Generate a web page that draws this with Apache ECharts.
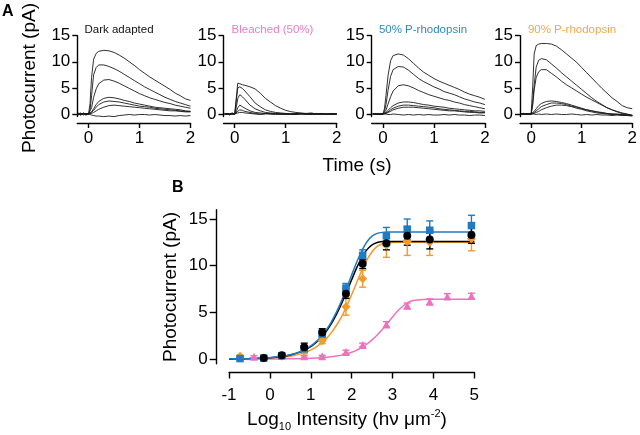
<!DOCTYPE html>
<html>
<head>
<meta charset="utf-8">
<script src="https://cdn.jsdelivr.net/npm/echarts@6/dist/echarts.min.js"></script>
<style>
html,body{margin:0;padding:0;background:#fff;}
#chart{width:640px;height:435px;}
</style>
</head>
<body>
<div id="chart"></div>
<script>
// ---------- Panel A data (time in s, photocurrent in pA) ----------
const timeA = [-0.2,-0.15,-0.1,-0.05,0,0.03,0.06,0.1,0.15,0.2,0.3,0.4,0.5,0.6,0.7,0.8,0.9,1.0,1.1,1.2,1.3,1.4,1.5,1.6,1.7,1.8,1.9,2.0];

const darkTraces = [
  [0.1,-0.2,0.2,-0.1,0, 2,7,10.5,11.6,12.0,12.2,12.1,11.8,11.3,10.7,10.0,9.3,8.5,7.8,7.1,6.5,5.9,5.3,4.7,4.0,3.5,2.9,2.6],
  [0,0.2,-0.2,0.1,0, 0.8,3.5,7.5,8.9,9.4,9.4,9.1,8.7,8.2,7.6,7.0,6.4,5.8,5.2,4.7,4.2,3.7,3.2,2.8,2.4,2.1,1.8,1.5],
  [-0.1,0.1,0,-0.2,0, 0.3,1.2,3.2,4.8,5.8,6.5,6.6,6.3,5.9,5.4,4.9,4.4,3.9,3.5,3.1,2.8,2.5,2.2,2.0,1.7,1.5,1.3,1.1],
  [0.2,0,-0.1,0.1,0, 0.1,0.4,1.0,1.8,2.4,3.0,3.2,3.1,2.9,2.6,2.4,2.1,1.9,1.7,1.5,1.3,1.2,1.1,1.0,0.9,0.8,0.6,0.5],
  [0,-0.1,0.1,0,0, 0.1,0.3,0.7,1.3,1.8,2.3,2.5,2.4,2.3,2.1,1.9,1.7,1.5,1.4,1.3,1.1,1.0,0.9,0.8,0.7,0.6,0.5,0.5],
  [-0.2,0,0.1,-0.1,0, 0,0.1,0.3,0.6,0.9,1.3,1.6,1.7,1.6,1.5,1.4,1.3,1.2,1.1,1.0,0.9,0.8,0.7,0.6,0.6,0.5,0.4,0.4],
  [0,-0.2,0.1,-0.1,0, -0.1,-0.2,-0.3,-0.4,-0.4,-0.5,-0.4,-0.5,-0.3,-0.2,-0.1,-0.2,-0.1,-0.1,-0.2,-0.1,-0.2,-0.3,-0.3,-0.4,-0.3,-0.4,-0.3]
];
const bleachedTraces = [
  [0,0.1,-0.2,0.1,0, 3.0,5.9,5.8,5.6,5.5,5.2,4.8,4.0,3.0,2.3,1.6,1.1,0.7,0.45,0.3,0.2,0.1,0.2,0,0.1,-0.1,0.1,0],
  [0.1,-0.1,0,0.2,0, 2.5,5.0,5.2,4.9,4.4,3.3,2.1,1.4,0.8,0.5,0.3,0.2,0.1,0,0.1,0,0.1,-0.1,0.1,0,0.1,-0.1,0],
  [-0.1,0,0.1,-0.1,0, 1.2,3.0,3.7,3.3,2.8,1.7,1.0,0.6,0.3,0.2,0.1,0,0.1,0,-0.1,0.1,0,0.1,0,-0.1,0,0.1,0],
  [0,0.1,-0.1,0,0, 0.4,1.2,1.7,1.4,1.1,0.6,0.3,0.2,0.1,0,0.1,0,-0.1,0,0.1,0,-0.1,0,0.1,0,-0.1,0,0.1],
  [0.1,0,-0.1,0.1,0, 0.2,0.5,0.8,0.7,0.5,0.3,0.1,0,0.1,0,-0.1,0.1,0,-0.1,0,0.1,0,-0.1,0,0.1,-0.1,0,-0.1],
  [-0.1,0.1,0,0,0, 0.1,0.2,0.3,0.3,0.2,0.1,0,-0.1,0,0.1,0,-0.1,0,0,-0.1,0,0.1,0,-0.1,0,0,-0.1,0]
];
const p50Traces = [
  [0,-0.1,0.1,0,0, 1.0,3.5,7.3,10.2,11.2,11.5,11.3,10.6,9.7,8.8,8.0,7.4,6.8,6.3,5.9,5.5,5.1,4.7,4.2,3.8,3.5,3.2,2.8],
  [0.1,0,-0.1,0,0, 0.5,1.8,4.5,7.2,8.5,9.1,9.0,8.4,7.6,6.8,6.2,5.7,5.2,4.8,4.3,4.0,3.7,3.3,2.9,2.6,2.3,2.1,1.8],
  [0,0.1,0,-0.1,0, 0.2,0.7,1.9,3.3,4.4,5.4,5.6,5.4,5.0,4.5,4.1,3.7,3.4,3.1,2.8,2.6,2.3,2.1,1.8,1.6,1.4,1.2,1.0],
  [-0.1,0,0.1,0,0, 0.1,0.3,0.7,1.2,1.6,2.1,2.3,2.3,2.2,2.0,1.8,1.7,1.5,1.4,1.3,1.1,1.0,0.9,0.8,0.7,0.6,0.6,0.5],
  [0,0.1,-0.1,0,0, 0,0.2,0.4,0.8,1.1,1.5,1.7,1.7,1.6,1.5,1.4,1.3,1.2,1.0,0.9,0.8,0.7,0.6,0.5,0.5,0.4,0.3,0.3],
  [0.1,0,0,-0.1,0, 0,0.1,0.3,0.5,0.8,1.1,1.3,1.3,1.3,1.2,1.1,1.0,0.9,0.8,0.7,0.6,0.6,0.5,0.4,0.3,0.3,0.2,0.2],
  [0,-0.1,0,0.1,0, 0,0,-0.1,-0.1,0,-0.1,-0.2,-0.1,-0.2,-0.1,-0.2,-0.1,-0.2,-0.2,-0.1,-0.2,-0.1,-0.2,-0.2,-0.3,-0.2,-0.2,-0.3]
];
const p90Traces = [
  [0,0.1,-0.1,0,0, 5.0,11.5,13.1,13.4,13.5,13.5,13.4,13.0,12.3,11.5,10.7,9.9,8.9,7.9,6.9,5.9,4.9,4.0,3.1,2.4,1.6,1.2,1.0],
  [0.1,0,-0.1,0.1,0, 2.0,5.5,9.0,10.3,10.6,10.4,9.6,8.8,7.9,7.1,6.3,5.5,4.7,3.9,3.1,2.4,1.8,1.2,0.8,0.4,0.1,-0.1,-0.3],
  [0,0.1,0,-0.1,0, 1.6,4.6,7.0,8.1,8.5,8.5,7.8,7.1,6.3,5.6,5.0,4.4,3.8,3.2,2.7,2.2,1.7,1.2,0.8,0.5,0.2,0,-0.3],
  [0,-0.1,0.1,0,0, 0.2,0.5,1.0,1.6,2.0,2.4,2.5,2.4,2.2,2.0,1.7,1.4,1.1,0.8,0.6,0.4,0.2,0.1,0,0,-0.1,-0.2,-0.3],
  [0.1,0,-0.1,0,0, 0.1,0.3,0.6,1.0,1.4,1.8,2.1,2.1,2.0,1.8,1.5,1.3,1.0,0.8,0.6,0.4,0.3,0.1,0,-0.1,-0.1,-0.2,-0.2],
  [0,0.1,0,-0.1,0, 0,0.1,0.3,0.5,0.8,1.2,1.5,1.7,1.7,1.6,1.4,1.1,0.9,0.6,0.4,0.2,0.1,0,-0.1,-0.1,-0.2,-0.2,-0.3],
  [0,-0.1,0.1,0,0, 0,0,-0.1,0,-0.1,0,-0.1,0,-0.1,-0.1,0,-0.1,-0.2,-0.1,-0.2,-0.1,-0.2,-0.2,-0.3,-0.2,-0.3,-0.3,-0.4]
];
const panelTitles = ['Dark adapted', 'Bleached (50%)', '50% P-rhodopsin', '90% P-rhodopsin'];
const yTicksA = [0, 5, 10, 15];
const xTicksA = [0, 1, 2];

// ---------- Panel B data (log10 intensity, photocurrent pA, SEM) ----------
const darkX = [-0.15, 0.29, 0.84, 1.28, 1.86, 2.27, 2.85, 3.36, 3.91, 4.93];
const darkY = [0.1, 0.4, 1.25, 2.85, 7.0, 10.2, 12.4, 13.2, 12.8, 13.3];
const darkE = [0.1, 0.15, 0.45, 0.4, 0.5, 0.5, 0.7, 1.0, 1.0, 0.9];

const p50X = [-0.73, -0.15, 0.29, 0.84, 1.28, 1.86, 2.27, 2.85, 3.36, 3.91, 4.93];
const p50Y = [0.05, 0.1, 0.35, 1.1, 2.7, 7.6, 11.1, 13.2, 13.9, 13.8, 14.3];
const p50E = [0.1, 0.1, 0.1, 0.3, 0.4, 0.5, 0.6, 0.9, 1.1, 1.0, 1.1];

const p90X = [-0.73, -0.15, 0.29, 0.84, 1.28, 1.86, 2.27, 2.85, 3.36, 3.91, 4.93];
const p90Y = [0.3, 0.1, 0.3, 0.9, 1.95, 5.6, 8.6, 12.2, 12.6, 12.5, 12.9];
const p90E = [0.1, 0.1, 0.1, 0.3, 0.3, 0.9, 0.9, 1.3, 1.5, 1.4, 1.3];

const bleachX = [-0.39, 0.84, 1.28, 1.86, 2.27, 2.85, 3.36, 3.91, 4.34, 4.93];
const bleachY = [0.25, 0.3, 0.3, 0.75, 1.5, 3.7, 5.7, 6.15, 6.7, 6.75];
const bleachE = [0.1, 0.1, 0.1, 0.2, 0.2, 0.3, 0.3, 0.3, 0.3, 0.3];

// fitted curves
const fitX      = [-1, -0.75, -0.5, -0.25, 0, 0.25, 0.5, 0.75, 1, 1.125, 1.25, 1.375, 1.5, 1.625, 1.75, 1.875, 2, 2.125, 2.25, 2.375, 2.5, 2.625, 2.75, 2.875, 3, 3.125, 3.25, 3.375, 3.5, 3.75, 4, 4.5, 5];
const fitDark   = [0.01, 0.03, 0.05, 0.08, 0.14, 0.25, 0.44, 0.77, 1.34, 1.75, 2.28, 2.95, 3.77, 4.75, 5.9, 7.18, 8.5, 9.79, 10.9, 11.72, 12.24, 12.49, 12.58, 12.6, 12.6, 12.6, 12.6, 12.6, 12.6, 12.6, 12.6, 12.6, 12.6];
const fitP50    = [0.02, 0.03, 0.05, 0.08, 0.15, 0.26, 0.46, 0.81, 1.40, 1.84, 2.40, 3.09, 3.96, 5.0, 6.2, 7.57, 9.0, 10.4, 11.6, 12.57, 13.17, 13.46, 13.57, 13.6, 13.6, 13.6, 13.6, 13.6, 13.6, 13.6, 13.6, 13.6, 13.6];
const fitP90    = [0.01, 0.02, 0.03, 0.06, 0.10, 0.18, 0.31, 0.55, 0.96, 1.27, 1.66, 2.16, 2.8, 3.59, 4.5, 5.64, 6.9, 8.2, 9.5, 10.63, 11.5, 12.07, 12.36, 12.47, 12.49, 12.5, 12.5, 12.5, 12.5, 12.5, 12.5, 12.5, 12.5];
const fitBleach = [0.0, 0.0, 0.0, 0.0, 0.01, 0.01, 0.03, 0.04, 0.08, 0.10, 0.14, 0.18, 0.24, 0.32, 0.42, 0.56, 0.73, 0.96, 1.25, 1.61, 2.05, 2.57, 3.17, 3.83, 4.5, 5.14, 5.66, 6.04, 6.26, 6.39, 6.4, 6.4, 6.4];
const yTicksB = [0, 5, 10, 15];

// ---------- styling ----------
const FONT = '"Liberation Sans", Arial, Helvetica, sans-serif';
const C_BLACK = '#000000';
const C_BLUE = '#1f7bc2';
const C_ORANGE = '#f39a2c';
const C_PINK = '#ec72bd';
const titleColors = ['#111111', '#ec7cc4', '#2d8ac7', '#f2a84a'];
const panelLeft = [77.3, 223.5, 371.7, 520];

const chart = echarts.init(document.getElementById('chart'), null, {renderer: 'canvas'});

const grids = panelLeft.map(l => ({left: l, top: 35.7, width: 113.2, height: 80.9}));
grids.push({left: 229, top: 209.7, width: 245.3, height: 154});

const axisLineStyle = {color: '#000', width: 1.4};
const xAxes = [], yAxes = [];
for (let i = 0; i < 4; i++) {
  xAxes.push({
    gridIndex: i, type: 'value', min: -0.22, max: 2.0, offset: 6.4,
    axisLine: {show: true, onZero: false, lineStyle: axisLineStyle},
    axisTick: {show: true, length: 5, customValues: xTicksA, lineStyle: axisLineStyle},
    axisLabel: {customValues: xTicksA, fontSize: 17, color: '#000', fontFamily: FONT, margin: 7},
    splitLine: {show: false}
  });
  yAxes.push({
    gridIndex: i, type: 'value', min: -0.5, max: 15,
    axisLine: {show: true, onZero: false, lineStyle: axisLineStyle},
    axisTick: {show: true, length: 5, customValues: yTicksA, lineStyle: axisLineStyle},
    axisLabel: {customValues: yTicksA, fontSize: 17, color: '#000', fontFamily: FONT, margin: 7},
    splitLine: {show: false}
  });
}
xAxes.push({
  gridIndex: 4, type: 'value', min: -1, max: 5, interval: 1, offset: 8.8,
  axisLine: {show: true, onZero: false, lineStyle: axisLineStyle},
  axisTick: {show: true, length: 6, lineStyle: axisLineStyle},
  axisLabel: {fontSize: 17, color: '#000', fontFamily: FONT, margin: 14},
  splitLine: {show: false}
});
yAxes.push({
  gridIndex: 4, type: 'value', min: -0.5, max: 16, offset: 12.3,
  axisLine: {show: true, onZero: false, lineStyle: axisLineStyle},
  axisTick: {show: true, length: 7, customValues: yTicksB, lineStyle: axisLineStyle},
  axisLabel: {customValues: yTicksB, fontSize: 17, color: '#000', fontFamily: FONT, margin: 9},
  splitLine: {show: false}
});

const series = [];
[darkTraces, bleachedTraces, p50Traces, p90Traces].forEach((traces, i) => {
  traces.forEach(tr => {
    series.push({
      type: 'line', xAxisIndex: i, yAxisIndex: i, showSymbol: false, silent: true,
      data: timeA.map((t, k) => [t, tr[k]]),
      lineStyle: {color: '#1a1a1a', width: 0.9}, clip: false, animation: false
    });
  });
});

function fitSeries(ys, color) {
  return {
    type: 'line', xAxisIndex: 4, yAxisIndex: 4, showSymbol: false, smooth: 0.25,
    data: fitX.map((x, k) => [x, ys[k]]),
    lineStyle: {color: color, width: 1.5}, z: 2, animation: false
  };
}
function errSeries(xs, ys, es, color) {
  return {
    type: 'custom', xAxisIndex: 4, yAxisIndex: 4, z: 3, animation: false,
    data: xs.map((x, k) => [x, ys[k] - es[k], ys[k] + es[k]]),
    encode: {x: 0, y: [1, 2]},
    renderItem: (params, api) => {
      const x = api.value(0);
      const lo = api.coord([x, api.value(1)]);
      const hi = api.coord([x, api.value(2)]);
      const w = 3.5;
      const st = {stroke: color, lineWidth: 1.4};
      return {type: 'group', children: [
        {type: 'line', shape: {x1: lo[0], y1: lo[1], x2: hi[0], y2: hi[1]}, style: st},
        {type: 'line', shape: {x1: lo[0] - w, y1: lo[1], x2: lo[0] + w, y2: lo[1]}, style: st},
        {type: 'line', shape: {x1: hi[0] - w, y1: hi[1], x2: hi[0] + w, y2: hi[1]}, style: st}
      ]};
    }
  };
}
function markSeries(xs, ys, color, symbol, size) {
  return {
    type: 'scatter', xAxisIndex: 4, yAxisIndex: 4, z: 4, animation: false,
    symbol: symbol, symbolSize: size,
    data: xs.map((x, k) => [x, ys[k]]),
    itemStyle: {color: color, opacity: 1}
  };
}
series.push(fitSeries(fitBleach, C_PINK));
series.push(fitSeries(fitP90, C_ORANGE));
series.push(fitSeries(fitDark, C_BLACK));
series.push(fitSeries(fitP50, C_BLUE));
series.push(errSeries(bleachX, bleachY, bleachE, C_PINK));
series.push(markSeries(bleachX, bleachY, C_PINK, 'triangle', 8));
series.push(errSeries(p90X, p90Y, p90E, C_ORANGE));
series.push(markSeries(p90X, p90Y, C_ORANGE, 'diamond', 9));
series.push(errSeries(p50X, p50Y, p50E, C_BLUE));
series.push(markSeries(p50X, p50Y, C_BLUE, 'rect', 7.5));
series.push(errSeries(darkX, darkY, darkE, C_BLACK));
series.push(markSeries(darkX, darkY, C_BLACK, 'circle', 8));

const graphics = [
  {type: 'text', left: 2, top: 4, style: {text: 'A', font: 'bold 16px ' + FONT, fill: '#000'}},
  {type: 'text', left: 172, top: 180, style: {text: 'B', font: 'bold 16px ' + FONT, fill: '#000'}},
  {type: 'text', x: 30, y: 78, rotation: Math.PI / 2,
   style: {text: 'Photocurrent (pA)', font: '19px ' + FONT, fill: '#000', align: 'center', verticalAlign: 'middle'}},
  {type: 'text', x: 171, y: 287, rotation: Math.PI / 2,
   style: {text: 'Photocurrent (pA)', font: '19px ' + FONT, fill: '#000', align: 'center', verticalAlign: 'middle'}},
  {type: 'text', x: 357, y: 166,
   style: {text: 'Time (s)', font: '19px ' + FONT, fill: '#000', align: 'center', verticalAlign: 'middle'}},
  {type: 'text', x: 347, y: 420,
   style: {
     text: '{m|Log}{s|10}{m| Intensity (hν μm}{p|-2}{m|)}',
     align: 'center', verticalAlign: 'middle',
     rich: {
       m: {fontSize: 19, fontFamily: FONT, fill: '#000', color: '#000', lineHeight: 24},
       s: {fontSize: 11, fontFamily: FONT, color: '#000', verticalAlign: 'bottom', lineHeight: 14, padding: [10, 0, 0, 0]},
       p: {fontSize: 11, fontFamily: FONT, color: '#000', verticalAlign: 'top', lineHeight: 14, padding: [0, 0, 8, 0]}
     }
   }}
];
const titleCenters = [119, 272.5, 423, 572];
panelTitles.forEach((t, i) => {
  graphics.push({type: 'text', x: titleCenters[i], y: 30,
    style: {text: t, font: '11.5px ' + FONT, fill: titleColors[i], align: 'center', verticalAlign: 'middle'}});
});

chart.setOption({
  animation: false,
  backgroundColor: '#ffffff',
  grid: grids,
  xAxis: xAxes,
  yAxis: yAxes,
  series: series,
  graphic: graphics
});
</script>
</body>
</html>
